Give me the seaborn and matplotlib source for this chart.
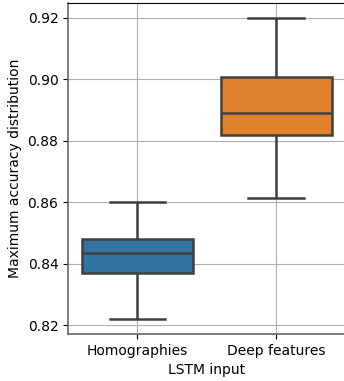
import matplotlib
matplotlib.use("Agg")
import matplotlib.pyplot as plt
import seaborn as sns
import pandas as pd

# Values (min, q1, median, q3, max)
homographies = [0.822, 0.837, 0.8435, 0.848, 0.860]
deep_features = [0.8615, 0.882, 0.889, 0.9007, 0.920]
categories = ["Homographies", "Deep features"]

df = pd.DataFrame({
    "LSTM input": [categories[0]] * len(homographies) + [categories[1]] * len(deep_features),
    "Maximum accuracy distribution": homographies + deep_features,
})

fig = plt.figure(figsize=(3.44, 3.81), dpi=100)
ax = fig.add_axes([0.198, 0.123, 0.806, 0.870])
sns.boxplot(data=df, x="LSTM input", y="Maximum accuracy distribution",
            hue="LSTM input", palette=["#3274a1", "#e1812c"], saturation=1,
            linewidth=1.8, linecolor="#3f3f3f", ax=ax)
ax.set_yticks([0.82, 0.84, 0.86, 0.88, 0.90, 0.92])
ax.grid(True, color="#b0b0b0", linewidth=0.8)
# grid sits above the box faces but below the box lines
ax.set_axisbelow("line")
for s in ["left", "bottom"]:
    ax.spines[s].set_color("#666666")
    ax.spines[s].set_linewidth(1.2)

plt.savefig("out.png", dpi=100)
